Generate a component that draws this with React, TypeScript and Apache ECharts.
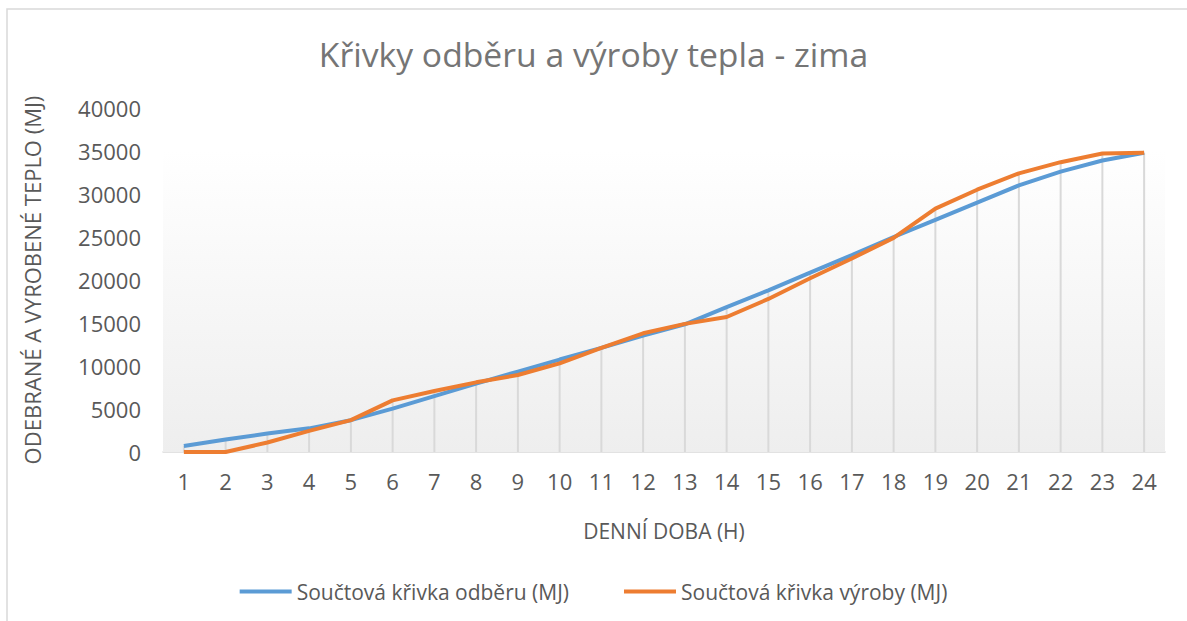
import React, { useEffect, useRef } from "react";
import * as echarts from "echarts";

const categories = ["1","2","3","4","5","6","7","8","9","10","11","12","13","14","15","16","17","18","19","20","21","22","23","24"];
const demand = [700, 1450, 2150, 2750, 3700, 5050, 6500, 7950, 9350, 10750, 12100, 13550, 14850, 16850, 18800, 20850, 22900, 25000, 27000, 29000, 31000, 32600, 33900, 34800];
const supply = [0, 0, 1100, 2450, 3700, 6000, 7100, 8100, 8950, 10300, 12100, 13800, 14900, 15700, 17800, 20200, 22500, 24900, 28300, 30500, 32400, 33700, 34700, 34800];
const dropTops = demand.map((d, i) => Math.max(d, supply[i]));

const title = "Křivky odběru a výroby tepla - zima";
const nameDemand = "Součtová křivka odběru (MJ)";
const nameSupply = "Součtová křivka výroby (MJ)";
const FONT = "'Open Sans', sans-serif";

export default function App() {
  const ref = useRef<HTMLDivElement>(null);
  useEffect(() => {
    document.body.style.margin = "0";
    const chart = echarts.init(ref.current!, null, { renderer: "svg" });
    chart.setOption({
      animation: false,
      backgroundColor: "#ffffff",
      textStyle: { fontFamily: FONT },
      title: {
        text: title,
        left: "center",
        top: 32,
        textStyle: { fontSize: 33.7, fontWeight: "normal", color: "#757575", fontFamily: FONT },
      },
      graphic: [
        {
          type: "rect",
          shape: { x: 7, y: 9, width: 1300, height: 700 },
          style: { fill: "none", stroke: "#d9d9d9", lineWidth: 1.5 },
          silent: true,
          z: -10,
        },
      ],
      legend: {
        bottom: 14,
        left: "center",
        itemGap: 55,
        itemWidth: 52,
        itemHeight: 4,
        icon: "rect",
        data: [nameDemand, nameSupply],
        textStyle: { fontSize: 21, color: "#595959", fontFamily: FONT },
      },
      grid: { left: 163, right: 22, top: 108, bottom: 169, containLabel: false },
      xAxis: {
        type: "category",
        data: categories,
        boundaryGap: true,
        name: "DENNÍ DOBA (H)",
        nameLocation: "middle",
        nameGap: 68,
        nameTextStyle: { fontSize: 21, color: "#595959" },
        axisLine: { lineStyle: { color: "#d9d9d9", width: 1.5 } },
        axisTick: { show: false },
        axisLabel: { fontSize: 22, color: "#595959", margin: 18 },
        splitLine: { show: false },
      },
      yAxis: {
        type: "value",
        min: 0,
        max: 40000,
        interval: 5000,
        name: "ODEBRANÉ A VYROBENÉ TEPLO (MJ)",
        nameLocation: "middle",
        nameGap: 120,
        nameRotate: 90,
        nameTextStyle: { fontSize: 22, color: "#595959" },
        axisLine: { show: false },
        axisTick: { show: false },
        axisLabel: { fontSize: 22, color: "#595959", margin: 22, formatter: (v: number) => String(v) },
        splitLine: { show: false },
      },
      series: [
        {
          name: "drop",
          type: "bar",
          data: dropTops,
          barWidth: 2,
          itemStyle: { color: "#d9d9d9" },
          silent: true,
          z: 1,
          markArea: {
            silent: true,
            itemStyle: {
              color: new echarts.graphic.LinearGradient(0, 0, 0, 1, [
                { offset: 0, color: "#ffffff" },
                { offset: 1, color: "#eeeeee" },
              ]),
            },
            data: [[{ yAxis: 0 }, { yAxis: 35000 }]],
          },
        },
        {
          name: nameDemand,
          type: "line",
          data: demand,
          showSymbol: false,
          symbol: "none",
          lineStyle: { color: "#5b9bd5", width: 4 },
          itemStyle: { color: "#5b9bd5" },
          z: 3,
        },
        {
          name: nameSupply,
          type: "line",
          data: supply,
          showSymbol: false,
          symbol: "none",
          lineStyle: { color: "#ed7d31", width: 4 },
          itemStyle: { color: "#ed7d31" },
          z: 4,
        },
      ],
    });
    return () => chart.dispose();
  }, []);
  return <div ref={ref} style={{ width: 1187, height: 621 }} />;
}
